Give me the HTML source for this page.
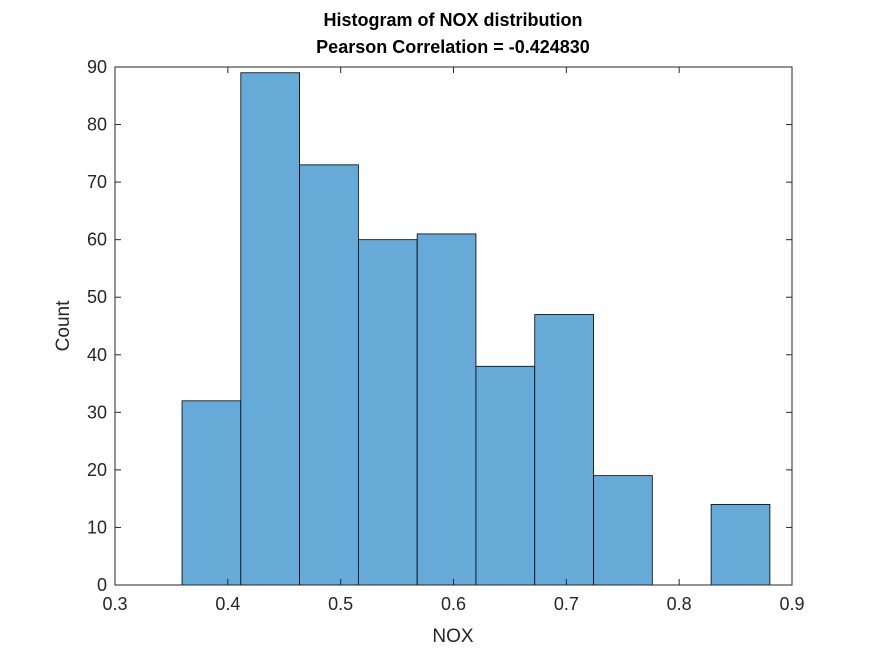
<!DOCTYPE html>
<html><head><meta charset="utf-8"><style>
body{margin:0;background:#fff;width:875px;height:656px;overflow:hidden}
svg{font-family:"Liberation Sans",Arial,sans-serif}
</style></head><body>
<svg id="chart" width="875" height="656" viewBox="0 0 875 656">
<rect width="875" height="656" fill="#fff"/>
<text x="453" y="26" text-anchor="middle" font-size="18" font-weight="bold" fill="#000">Histogram of NOX distribution</text>
<text x="453" y="53" text-anchor="middle" font-size="18" font-weight="bold" fill="#000">Pearson Correlation = -0.424830</text>
<g id="bars"></g>
<g id="axes"></g>
<text x="453" y="642" text-anchor="middle" font-size="19" fill="#262626">NOX</text>
<text transform="translate(69,326) rotate(-90)" text-anchor="middle" font-size="19" fill="#262626">Count</text>
</svg>
<script>
const binEdgeStart = 0.3594;
const binWidth = 0.0521;
const counts = [32, 89, 73, 60, 61, 38, 47, 19, 0, 14];
const xTicks = [0.3, 0.4, 0.5, 0.6, 0.7, 0.8, 0.9];
const yTicks = [0, 10, 20, 30, 40, 50, 60, 70, 80, 90];
const X0=115, X1=792, Y0=585, Y1=67;
const xs = v => X0 + (v - 0.3) / 0.6 * (X1 - X0);
const ys = v => Y0 - v / 90 * (Y0 - Y1);
const NS = 'http://www.w3.org/2000/svg';
const bars = document.getElementById('bars');
counts.forEach((c, i) => {
  if (c <= 0) return;
  const r = document.createElementNS(NS, 'rect');
  const a = xs(binEdgeStart + i * binWidth), b = xs(binEdgeStart + (i + 1) * binWidth);
  r.setAttribute('x', a); r.setAttribute('width', b - a);
  r.setAttribute('y', ys(c)); r.setAttribute('height', ys(0) - ys(c));
  r.setAttribute('fill', '#66aad7'); r.setAttribute('stroke', '#000'); r.setAttribute('stroke-width', '0.8');
  
  
  bars.appendChild(r);
});
const axes = document.getElementById('axes');
const box = document.createElementNS(NS, 'rect');
box.setAttribute('x', X0); box.setAttribute('y', Y1); box.setAttribute('width', X1 - X0); box.setAttribute('height', Y0 - Y1);
box.setAttribute('fill', 'none'); box.setAttribute('stroke', '#262626'); box.setAttribute('stroke-width', '1');


axes.appendChild(box);
function line(x1, y1, x2, y2) {
  const l = document.createElementNS(NS, 'line');
  l.setAttribute('x1', x1); l.setAttribute('y1', y1); l.setAttribute('x2', x2); l.setAttribute('y2', y2);
  l.setAttribute('stroke', '#262626'); l.setAttribute('stroke-width', '1');
  
  
  axes.appendChild(l);
}
function label(x, y, s, anchor) {
  const t = document.createElementNS(NS, 'text');
  t.setAttribute('x', x); t.setAttribute('y', y); t.setAttribute('text-anchor', anchor);
  t.setAttribute('font-size', '18'); t.setAttribute('fill', '#262626');
  t.textContent = s;
  
  
  axes.appendChild(t);
}
xTicks.forEach(v => {
  const x = xs(v);
  line(x, Y0, x, Y0 - 6); line(x, Y1, x, Y1 + 6);
  label(x, Y0 + 25, String(v), 'middle');
});
yTicks.forEach(v => {
  const y = ys(v);
  line(X0, y, X0 + 6, y); line(X1, y, X1 - 6, y);
  label(X0 - 8, y + 6, String(v), 'end');
});
</script>
</body></html>
